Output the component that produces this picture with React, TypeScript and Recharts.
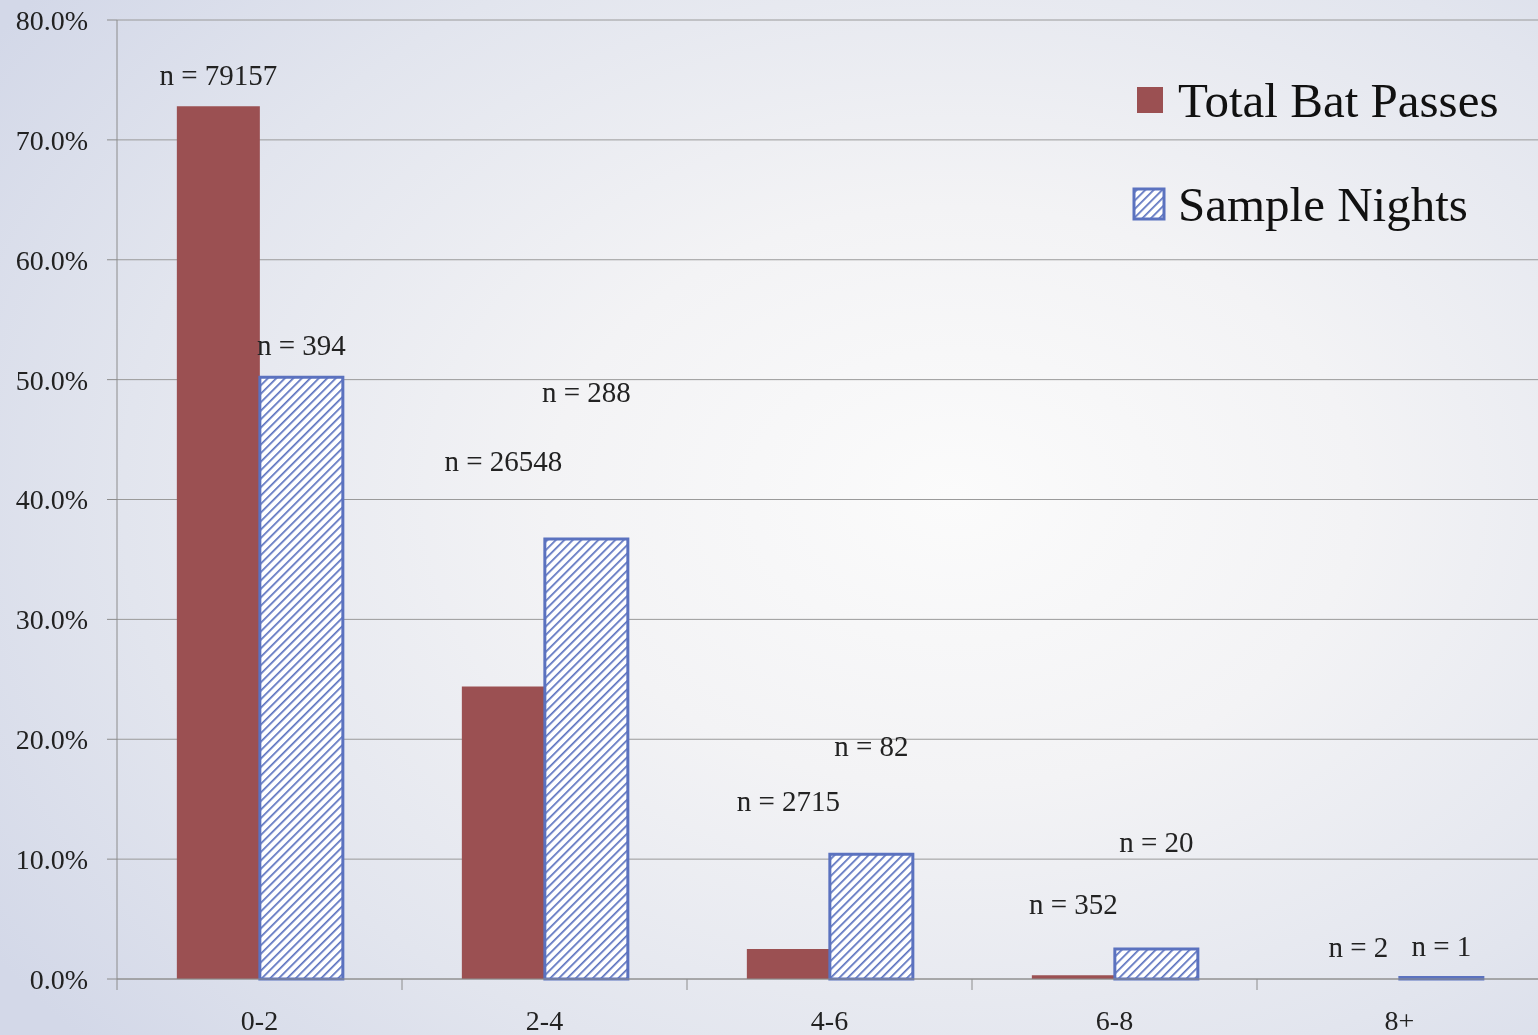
import {
  Bar,
  BarChart,
  CartesianGrid,
  LabelList,
  Legend,
  XAxis,
  YAxis,
} from "recharts";

const categories = ["0-2", "2-4", "4-6", "6-8", "8+"];
const batPassPct = [72.8, 24.4, 2.5, 0.32, 0.002];
const sampleNightPct = [50.2, 36.7, 10.4, 2.5, 0.13];
const batPassCounts = [79157, 26548, 2715, 352, 2];
const sampleNightCounts = [394, 288, 82, 20, 1];
const yTicks = [0, 10, 20, 30, 40, 50, 60, 70, 80];

// px that each "n = ..." label sits above its bar, the labels were placed by hand in the original
const batLabelLift = [31, 226, 148, 71, 32];
const nightLabelLift = [32, 147, 108, 107, 31];

const data = categories.map((range, i) => ({
  range,
  bat: batPassPct[i],
  nights: sampleNightPct[i],
}));

const W = 1546;
const H = 1035;
const margin = { top: 20, right: 4, bottom: 0, left: 0 };
const yAxisWidth = 117;
const xAxisHeight = 56;
const catWidth = (W - margin.left - margin.right - yAxisWidth) / categories.length;

const RED = "#9b5052";
const BLUE = "#5b72bf";
const textColor = "#222";
const legendOrder = ["bat", "nights"];

const RangeTick = (props: any) => {
  const { x, y, payload } = props;
  return (
    <g>
      <line x1={x - catWidth / 2} x2={x - catWidth / 2} y1={y} y2={y + 11} stroke="#8c8c8c" />
      <text x={x} y={y + 41} textAnchor="middle" dominantBaseline="central" fill={textColor} fontSize={28}>
        {payload.value}
      </text>
    </g>
  );
};

const countLabel = (counts: number[], lifts: number[]) => (props: any) => {
  const { x, y, width, index } = props;
  return (
    <text
      x={Number(x) + Number(width) / 2}
      y={Number(y) - lifts[index]}
      textAnchor="middle"
      dominantBaseline="central"
      fill={textColor}
      fontSize={29}
    >
      {`n = ${counts[index]}`}
    </text>
  );
};

const LegendBox = (props: any) => {
  const items = [...(props.payload || [])].sort(
    (a: any, b: any) => legendOrder.indexOf(a.dataKey) - legendOrder.indexOf(b.dataKey)
  );
  return (
    <div style={{ fontSize: 49, color: "#111", lineHeight: 1 }}>
      {items.map((entry: any) => (
        <div
          key={entry.value}
          style={{ display: "flex", alignItems: "center", height: 104 }}
        >
          <svg width={40} height={34} style={{ marginRight: 8 }}>
            {entry.dataKey === "nights" ? (
              <rect x={4} y={2} width={30} height={30} fill="url(#hatch)" stroke={BLUE} strokeWidth={3} />
            ) : (
              <rect x={7} y={4} width={26} height={26} fill={RED} />
            )}
          </svg>
          <span>{entry.value}</span>
        </div>
      ))}
    </div>
  );
};

const App = () => {
  return (
    <div
      style={{
        position: "fixed",
        left: 0,
        top: 0,
        width: 1538,
        height: 1035,
        overflow: "hidden",
        fontFamily: "'Liberation Serif', serif",
        background:
          "radial-gradient(ellipse 75% 80% at 62% 48%, #fbfbfb 0%, #f3f3f5 35%, #e2e5ee 72%, #d3d8e8 100%)",
      }}
    >
      <BarChart
        width={W}
        height={H}
        data={data}
        margin={margin}
        barCategoryGap="21%"
        barGap={0}
      >
        <defs>
          <pattern
            id="hatch"
            width={6}
            height={6}
            patternUnits="userSpaceOnUse"
            patternTransform="rotate(45)"
          >
            <rect width={6} height={6} fill="#ffffff" />
            <line x1={0} y1={0} x2={0} y2={6} stroke={BLUE} strokeWidth={3.4} />
          </pattern>
        </defs>
        <CartesianGrid vertical={false} stroke="#9a9a9a" />
        <XAxis
          dataKey="range"
          height={xAxisHeight}
          interval={0}
          tickLine={false}
          tickSize={0}
          tickMargin={0}
          axisLine={{ stroke: "#8c8c8c" }}
          tick={<RangeTick />}
        />
        <YAxis
          width={yAxisWidth}
          domain={[0, 80]}
          ticks={yTicks}
          tickFormatter={(v: number) => `${v.toFixed(1)}%`}
          tickSize={10}
          tickMargin={19}
          tickLine={{ stroke: "#8c8c8c" }}
          axisLine={{ stroke: "#8c8c8c" }}
          tick={{ fill: textColor, fontSize: 28 }}
        />
        <Legend
          layout="vertical"
          align="center"
          verticalAlign="middle"
          content={<LegendBox />}
          wrapperStyle={{ position: "absolute", left: 1130, top: 48, width: 420 }}
        />
        <Bar dataKey="bat" name="Total Bat Passes" fill={RED} isAnimationActive={false}>
          <LabelList dataKey="bat" content={countLabel(batPassCounts, batLabelLift)} />
        </Bar>
        <Bar
          dataKey="nights"
          name="Sample Nights"
          fill="url(#hatch)"
          stroke={BLUE}
          strokeWidth={3}
          isAnimationActive={false}
        >
          <LabelList dataKey="nights" content={countLabel(sampleNightCounts, nightLabelLift)} />
        </Bar>
      </BarChart>
    </div>
  );
};

export default App;
